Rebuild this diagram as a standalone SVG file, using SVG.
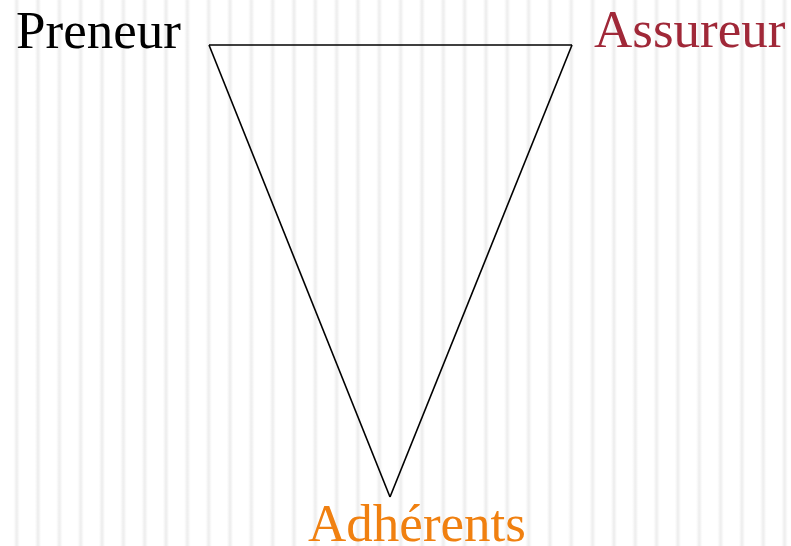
<svg xmlns="http://www.w3.org/2000/svg" width="791" height="546" viewBox="0 0 791 546">
<defs>
<linearGradient id="sg" x1="0" y1="0" x2="1" y2="0">
<stop offset="0" stop-color="#ffffff"/>
<stop offset="0.36" stop-color="#ffffff"/>
<stop offset="0.5" stop-color="#ececec"/>
<stop offset="0.64" stop-color="#ffffff"/>
<stop offset="1" stop-color="#ffffff"/>
</linearGradient>
<pattern id="stripes" patternUnits="userSpaceOnUse" x="6.03" y="0" width="21.33" height="546">
<rect x="0" y="0" width="21.33" height="546" fill="url(#sg)"/>
</pattern>
<style>
.lbl{font-family:"Liberation Serif","Times New Roman",serif;font-size:53px}
.edge{fill:none;stroke:#000;stroke-width:1.6}
</style>
</defs>
<rect width="791" height="546" fill="#fff"/>
<rect width="791" height="546" fill="url(#stripes)"/>
<g id="connectors">
<path class="edge" d="M209,45 L572,45"/>
<path class="edge" d="M209,45 L390,497"/>
<path class="edge" d="M572,45 L390,497"/>
</g>
<g id="preneur"><text class="lbl" x="16" y="48" fill="#000">Preneur</text></g>
<g id="assureur"><text class="lbl" x="594" y="47" fill="#a02838">Assureur</text></g>
<g id="adherents"><text class="lbl" x="417" y="541" text-anchor="middle" fill="#f08010">Adhérents</text></g>
</svg>
